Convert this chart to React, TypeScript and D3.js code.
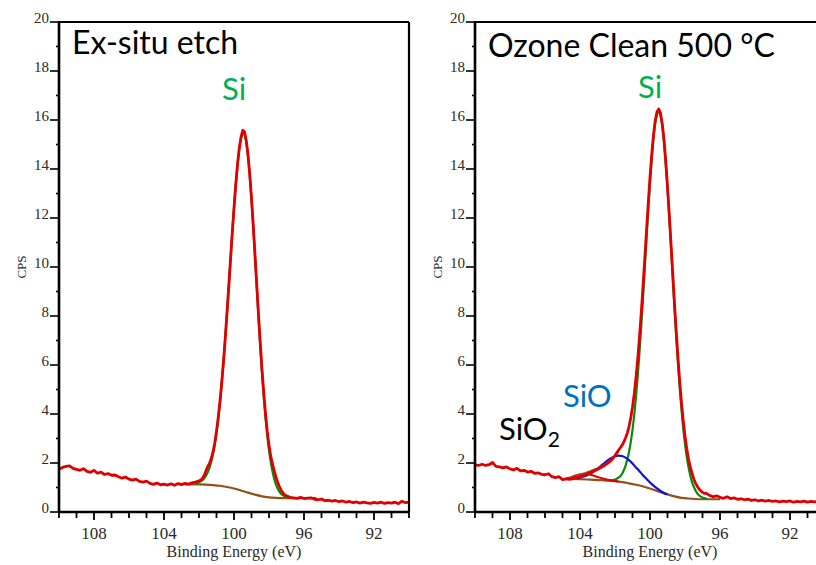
import React, { useRef, useEffect } from 'react';
import * as d3 from 'd3';

// binding energy (eV), counts (CPS)
const exsituRaw: [number, number][] = [
  [110.0, 1.74], [109.8, 1.82], [109.6, 1.86], [109.4, 1.88], [109.2, 1.78], [109.0, 1.74], [108.8, 1.70], [108.6, 1.77],
  [108.4, 1.66], [108.2, 1.62], [108.0, 1.70], [107.8, 1.58], [107.6, 1.63], [107.4, 1.53], [107.2, 1.57], [107.0, 1.50],
  [106.8, 1.51], [106.6, 1.44], [106.4, 1.38], [106.2, 1.43], [106.0, 1.34], [105.8, 1.30], [105.6, 1.34], [105.4, 1.25],
  [105.2, 1.22], [105.0, 1.26], [104.8, 1.17], [104.6, 1.13], [104.4, 1.18], [104.2, 1.11], [104.0, 1.14], [103.8, 1.10],
  [103.6, 1.15], [103.4, 1.09], [103.2, 1.16], [103.0, 1.12], [102.8, 1.17], [102.6, 1.14], [102.4, 1.19], [102.2, 1.22],
  [102.0, 1.27], [101.9, 1.31], [101.8, 1.38], [101.7, 1.50], [101.6, 1.68], [101.5, 1.86], [101.4, 1.98], [101.3, 2.18],
  [101.2, 2.45], [101.1, 2.82], [101.0, 3.30], [100.9, 3.86], [100.8, 4.52], [100.7, 5.30], [100.6, 6.15], [100.5, 7.10],
  [100.4, 8.14], [100.3, 9.20], [100.2, 10.30], [100.1, 11.38], [100.0, 12.40], [99.9, 13.36], [99.8, 14.18], [99.7, 14.85],
  [99.6, 15.30], [99.5, 15.58], [99.4, 15.52], [99.3, 15.16], [99.2, 14.58], [99.1, 13.78], [99.0, 12.80], [98.9, 11.70],
  [98.8, 10.50], [98.7, 9.28], [98.6, 8.05], [98.5, 6.90], [98.4, 5.82], [98.3, 4.86], [98.2, 4.02], [98.1, 3.30],
  [98.0, 2.72], [97.9, 2.28], [97.8, 1.95], [97.7, 1.68], [97.6, 1.42], [97.5, 1.20], [97.4, 1.02], [97.3, 0.88],
  [97.2, 0.78], [97.1, 0.70], [97.0, 0.66], [96.8, 0.60], [96.6, 0.58], [96.4, 0.56], [96.2, 0.60], [96.0, 0.55],
  [95.8, 0.57], [95.6, 0.58], [95.4, 0.52], [95.2, 0.50], [95.0, 0.53], [94.8, 0.46], [94.6, 0.48], [94.4, 0.44],
  [94.2, 0.47], [94.0, 0.42], [93.8, 0.45], [93.6, 0.40], [93.4, 0.43], [93.2, 0.38], [93.0, 0.41], [92.8, 0.36],
  [92.6, 0.40], [92.4, 0.37], [92.2, 0.35], [92.0, 0.39], [91.8, 0.36], [91.6, 0.40], [91.4, 0.35], [91.2, 0.38],
  [91.0, 0.36], [90.8, 0.40], [90.6, 0.34], [90.4, 0.44], [90.2, 0.38], [90.0, 0.40],
];

const exsituBackground: [number, number][] = [
  [102.8, 1.13], [102.0, 1.13], [101.6, 1.12], [101.2, 1.10], [100.8, 1.07], [100.4, 1.02], [100.0, 0.96], [99.6, 0.88],
  [99.2, 0.79], [98.8, 0.71], [98.4, 0.64], [98.0, 0.60], [97.6, 0.58], [97.2, 0.57], [96.4, 0.57], [95.3, 0.57],
];

const exsituSi: [number, number][] = [
  [102.2, 1.16], [102.0, 1.21], [101.9, 1.25], [101.8, 1.30], [101.7, 1.37], [101.6, 1.48], [101.5, 1.62], [101.4, 1.80],
  [101.3, 2.05], [101.2, 2.36], [101.1, 2.74], [101.0, 3.22], [100.9, 3.79], [100.8, 4.46], [100.7, 5.24], [100.6, 6.11],
  [100.5, 7.08], [100.4, 8.11], [100.3, 9.19], [100.2, 10.29], [100.1, 11.39], [100.0, 12.42], [99.9, 13.35], [99.8, 14.15],
  [99.7, 14.79], [99.6, 15.22], [99.5, 15.43], [99.4, 15.40], [99.3, 15.10], [99.2, 14.54], [99.1, 13.74], [99.0, 12.76],
  [98.9, 11.64], [98.8, 10.42], [98.7, 9.18], [98.6, 7.95], [98.5, 6.78], [98.4, 5.68], [98.3, 4.71], [98.2, 3.86],
  [98.1, 3.13], [98.0, 2.52], [97.9, 2.04], [97.8, 1.65], [97.7, 1.35], [97.6, 1.12], [97.5, 0.95], [97.4, 0.82],
  [97.3, 0.74], [97.2, 0.68], [97.0, 0.62], [96.8, 0.59], [96.6, 0.57],
];

const ozoneRaw: [number, number][] = [
  [110.0, 1.92], [109.8, 1.90], [109.6, 1.95], [109.4, 1.90], [109.2, 1.93], [109.0, 2.02], [108.8, 1.86], [108.6, 1.84],
  [108.4, 1.80], [108.2, 1.84], [108.0, 1.76], [107.8, 1.72], [107.6, 1.78], [107.4, 1.68], [107.2, 1.70], [107.0, 1.63],
  [106.8, 1.66], [106.6, 1.58], [106.4, 1.60], [106.2, 1.54], [106.0, 1.52], [105.8, 1.56], [105.6, 1.44], [105.4, 1.40],
  [105.2, 1.44], [105.0, 1.32], [104.8, 1.35], [104.6, 1.33], [104.4, 1.36], [104.2, 1.40], [104.0, 1.44], [103.8, 1.50],
  [103.6, 1.55], [103.4, 1.60], [103.2, 1.68], [103.0, 1.74], [102.8, 1.82], [102.6, 1.90], [102.4, 2.00], [102.2, 2.12],
  [102.0, 2.30], [101.9, 2.42], [101.8, 2.52], [101.7, 2.62], [101.6, 2.72], [101.5, 2.85], [101.4, 3.02], [101.3, 3.22],
  [101.2, 3.48], [101.1, 3.85], [101.0, 4.28], [100.9, 4.82], [100.8, 5.48], [100.7, 6.25], [100.6, 7.15], [100.5, 8.12],
  [100.4, 9.20], [100.3, 10.32], [100.2, 11.48], [100.1, 12.60], [100.0, 13.66], [99.9, 14.60], [99.8, 15.40], [99.7, 15.98],
  [99.6, 16.34], [99.5, 16.45], [99.4, 16.28], [99.3, 15.85], [99.2, 15.20], [99.1, 14.30], [99.0, 13.28], [98.9, 12.15],
  [98.8, 10.95], [98.7, 9.72], [98.6, 8.50], [98.5, 7.35], [98.4, 6.28], [98.3, 5.30], [98.2, 4.45], [98.1, 3.72],
  [98.0, 3.10], [97.9, 2.58], [97.8, 2.15], [97.7, 1.85], [97.6, 1.58], [97.5, 1.35], [97.4, 1.18], [97.3, 1.05],
  [97.2, 0.94], [97.1, 0.86], [97.0, 0.80], [96.9, 0.76], [96.8, 0.77], [96.6, 0.68], [96.4, 0.62], [96.2, 0.66],
  [96.0, 0.60], [95.8, 0.56], [95.6, 0.62], [95.4, 0.55], [95.2, 0.58], [95.0, 0.52], [94.8, 0.54], [94.6, 0.50],
  [94.4, 0.53], [94.2, 0.47], [94.0, 0.50], [93.8, 0.45], [93.6, 0.48], [93.4, 0.44], [93.2, 0.47], [93.0, 0.43],
  [92.8, 0.45], [92.6, 0.41], [92.4, 0.44], [92.2, 0.42], [92.0, 0.45], [91.8, 0.40], [91.6, 0.43], [91.4, 0.41],
  [91.2, 0.44], [91.0, 0.40], [90.8, 0.43], [90.6, 0.41], [90.4, 0.44], [90.2, 0.40], [90.0, 0.42],
];

const ozoneBackground: [number, number][] = [
  [104.6, 1.35], [104.0, 1.34], [103.4, 1.32], [102.8, 1.30], [102.2, 1.27], [101.8, 1.24], [101.4, 1.20], [101.0, 1.14],
  [100.6, 1.08], [100.2, 1.00], [99.8, 0.91], [99.4, 0.81], [99.0, 0.72], [98.6, 0.64], [98.2, 0.58], [97.8, 0.55],
  [97.4, 0.53], [97.0, 0.52], [96.0, 0.52],
];

const ozoneSi: [number, number][] = [
  [102.3, 1.28], [102.1, 1.305], [101.9, 1.36], [101.7, 1.46], [101.6, 1.55], [101.5, 1.70], [101.4, 1.88], [101.3, 2.13],
  [101.2, 2.44], [101.1, 2.85], [101.0, 3.35], [100.9, 3.97], [100.8, 4.70], [100.7, 5.55], [100.6, 6.52], [100.5, 7.58],
  [100.4, 8.73], [100.3, 9.93], [100.2, 11.14], [100.1, 12.33], [100.0, 13.44], [99.9, 14.42], [99.8, 15.25], [99.7, 15.86],
  [99.6, 16.23], [99.5, 16.34], [99.4, 16.18], [99.3, 15.76], [99.2, 15.11], [99.1, 14.23], [99.0, 13.20], [98.9, 12.05],
  [98.8, 10.82], [98.7, 9.57], [98.6, 8.33], [98.5, 7.15], [98.4, 6.05], [98.3, 5.05], [98.2, 4.17], [98.1, 3.41],
  [98.0, 2.78], [97.9, 2.25], [97.8, 1.82], [97.7, 1.49], [97.6, 1.22], [97.5, 1.03], [97.3, 0.76], [97.1, 0.63],
  [96.9, 0.565], [96.7, 0.53],
];

const ozoneSiO: [number, number][] = [
  [104.2, 1.36], [104.0, 1.42], [103.8, 1.455], [103.6, 1.505], [103.4, 1.57], [103.2, 1.66], [103.0, 1.765], [102.8, 1.885],
  [102.6, 2.0], [102.4, 2.12], [102.2, 2.21], [102.0, 2.275], [101.8, 2.305], [101.6, 2.285], [101.4, 2.22], [101.2, 2.115],
  [101.0, 1.98], [100.8, 1.82], [100.6, 1.665], [100.4, 1.50], [100.2, 1.35], [100.0, 1.205], [99.8, 1.075], [99.6, 0.96],
  [99.4, 0.86], [99.2, 0.78], [99.0, 0.725],
];

const ozoneSiO2: [number, number][] = [
  [104.8, 1.37], [104.6, 1.40], [104.4, 1.45], [104.2, 1.50], [104.0, 1.54], [103.8, 1.56], [103.6, 1.55], [103.4, 1.52],
  [103.2, 1.48], [103.0, 1.43], [102.8, 1.39], [102.6, 1.35], [102.4, 1.32], [102.2, 1.29], [102.0, 1.265], [101.8, 1.245],
];

const ozoneEnvelope: [number, number][] = [
  [104.6, 1.37], [104.4, 1.41], [104.2, 1.46], [104.0, 1.51], [103.8, 1.56], [103.6, 1.61], [103.4, 1.66], [103.2, 1.72],
  [103.0, 1.78], [102.8, 1.85], [102.6, 1.93], [102.4, 2.03], [102.2, 2.15], [102.0, 2.30], [101.8, 2.47],
];

const xTickLabels = [108, 104, 100, 96, 92];
const yTickLabels = [0, 2, 4, 6, 8, 10, 12, 14, 16, 18, 20];

const RED = '#e00000';
const GREEN = '#0a8a0a';
const BROWN = '#8f5318';
const BLUE = '#1010d8';
const SERIF = '"Liberation Serif", "Times New Roman", serif';
const SANS = 'Lato, Calibri, "Open Sans", sans-serif';

const App = () => {
  const chartRef = useRef(null);

  useEffect(() => {
    const width = 816;
    const height = 565;
    d3.select(chartRef.current).selectAll('*').remove();

    const svg = d3.select(chartRef.current)
      .append('svg')
      .attr('width', width)
      .attr('height', height)
      .style('display', 'block');

    const panels = [
      {
        left: 59,
        title: 'Ex-situ etch', titleY: 54,
        siLabel: { x: 222, y: 100 },
        curves: [
          { data: exsituBackground, color: BROWN, w: 2.2 },
          { data: exsituSi, color: GREEN, w: 2.2 },
          { data: exsituRaw, color: RED, w: 2.8, raw: true },
        ],
      },
      {
        left: 475,
        title: 'Ozone Clean 500 °C', titleY: 57,
        siLabel: { x: 638, y: 98 },
        curves: [
          { data: ozoneBackground, color: BROWN, w: 2.2 },
          { data: ozoneSi, color: GREEN, w: 2.2 },
          { data: ozoneSiO, color: BLUE, w: 2.2 },
          { data: ozoneSiO2, color: RED, w: 2 },
          { data: ozoneEnvelope, color: BROWN, w: 2.2 },
          { data: ozoneRaw, color: RED, w: 2.8, raw: true },
        ],
      },
    ];

    const top = 22;
    const bottom = 512;
    const plotW = 350;

    panels.forEach((p) => {
      const x = d3.scaleLinear().domain([110, 90]).range([p.left, p.left + plotW]);
      const y = d3.scaleLinear().domain([0, 20]).range([bottom, top]);

      const g = svg.append('g');

      // curves
      p.curves.forEach((c) => {
        const line = d3.line<[number, number]>()
          .x(d => x(d[0]))
          .y(d => y(d[1]))
          .curve(c.raw ? d3.curveLinear : d3.curveMonotoneX);
        g.append('path')
          .datum(c.data.slice().sort((a, b) => b[0] - a[0]))
          .attr('d', line)
          .attr('fill', 'none')
          .attr('stroke', c.color)
          .attr('stroke-width', c.w)
          .attr('stroke-linejoin', 'round');
      });

      // frame
      g.append('line').attr('x1', p.left).attr('x2', p.left + plotW).attr('y1', top).attr('y2', top)
        .attr('stroke', '#000').attr('stroke-width', 2.2);
      g.append('line').attr('x1', p.left + plotW).attr('x2', p.left + plotW).attr('y1', top).attr('y2', bottom)
        .attr('stroke', '#000').attr('stroke-width', 2.2);

      // y axis
      const yMinor = d3.range(0, 21, 1);
      g.selectAll('.ytick').data(yMinor).enter().append('line')
        .attr('x1', p.left).attr('x2', d => p.left - (d % 2 === 0 ? 9 : 3))
        .attr('y1', d => y(d)).attr('y2', d => y(d))
        .attr('stroke', '#000').attr('stroke-width', 1.6);
      g.selectAll('.ylab').data(yTickLabels).enter().append('text')
        .attr('x', p.left - 10).attr('y', d => y(d) + 1)
        .attr('text-anchor', 'end')
        .attr('font-family', SERIF).attr('font-size', 15)
        .attr('fill', '#2a2a2a')
        .text(d => d);
      g.append('line').attr('x1', p.left).attr('x2', p.left).attr('y1', top - 1).attr('y2', bottom + 1)
        .attr('stroke', '#000').attr('stroke-width', 2.6);

      // x axis
      const xMinor = d3.range(90, 111, 1);
      g.selectAll('.xtick').data(xMinor).enter().append('line')
        .attr('x1', d => x(d)).attr('x2', d => x(d))
        .attr('y1', bottom).attr('y2', d => bottom + (xTickLabels.includes(d) ? 8 : 6))
        .attr('stroke', '#000').attr('stroke-width', 1.8);
      g.selectAll('.xlab').data(xTickLabels).enter().append('text')
        .attr('x', d => x(d)).attr('y', bottom + 27)
        .attr('text-anchor', 'middle')
        .attr('font-family', SERIF).attr('font-size', 17)
        .attr('fill', '#2a2a2a')
        .text(d => d);
      g.append('line').attr('x1', p.left - 1).attr('x2', p.left + plotW).attr('y1', bottom).attr('y2', bottom)
        .attr('stroke', '#000').attr('stroke-width', 2.6);

      // axis titles
      g.append('text')
        .attr('x', p.left + plotW / 2).attr('y', 557)
        .attr('text-anchor', 'middle')
        .attr('font-family', SERIF).attr('font-size', 16)
        .attr('fill', '#2a2a2a')
        .text('Binding Energy (eV)');
      g.append('text')
        .attr('transform', `translate(${p.left - 33},${(top + bottom) / 2}) rotate(-90)`)
        .attr('text-anchor', 'middle')
        .attr('font-family', SERIF).attr('font-size', 13)
        .attr('fill', '#2a2a2a')
        .text('CPS');

      // annotations
      g.append('text')
        .attr('x', p.left + 13).attr('y', p.titleY)
        .attr('font-family', SANS).attr('font-size', 32)
        .attr('fill', '#000')
        .text(p.title);
      g.append('text')
        .attr('x', p.siLabel.x).attr('y', p.siLabel.y)
        .attr('font-family', SANS).attr('font-size', 31)
        .attr('fill', '#00b050')
        .text('Si');
    });

    // oxide labels on the ozone panel
    svg.append('text')
      .attr('x', 563).attr('y', 407)
      .attr('font-family', SANS).attr('font-size', 31)
      .attr('fill', '#0070c0')
      .text('SiO');
    const sio2 = svg.append('text')
      .attr('x', 499).attr('y', 440)
      .attr('font-family', SANS).attr('font-size', 31)
      .attr('fill', '#000');
    sio2.append('tspan').text('SiO');
    sio2.append('tspan').attr('font-size', 21).attr('dy', 7).text('2');
  }, []);

  return (
    <div ref={chartRef} style={{ position: 'absolute', left: 0, top: 0, width: 816, height: 565, background: '#fff' }}></div>
  );
};

export default App;
